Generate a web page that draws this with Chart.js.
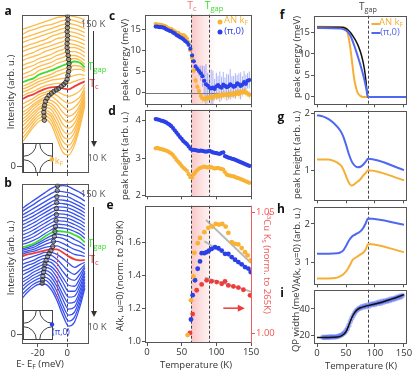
<!DOCTYPE html>
<html>
<head>
<meta charset="utf-8">
<script src="https://cdn.jsdelivr.net/npm/chart.js@4.4.1/dist/chart.umd.min.js"></script>
<style>
  body { margin: 0; background: #fff; }
  #fig { position: relative; width: 416px; height: 373px; overflow: hidden; font-family: 'Open Sans', sans-serif; color: #333; }
  #fig canvas { position: absolute; }
  .t { position: absolute; white-space: nowrap; font-size: 9.5px; line-height: 1; transform: translate(-50%, -50%); }
  .t sub { font-size: 72%; vertical-align: -0.3em; }
  .t sup { font-size: 65%; vertical-align: 0.5em; }
  .lt { font-size: 12px; font-weight: bold; color: #111; }
</style>
</head>
<body>
<div id="fig"></div>
<script>
// ---- a / b : stacked EDCs (offset intensity, arb. u.), one row per temperature
const edcEnergy = [-30.5, -27, -23, -19, -15, -11, -7, -3, 1, 5, 9, 12];
const edcTemps = [10, 15, 20, 25, 30, 35, 40, 45, 50, 55, 60, 65, 70, 75, 80, 85, 90, 95, 100, 105, 110, 115, 120, 125, 130, 135, 140, 145, 150];
const edcAN = [
  [24, 31, 39, 45, 47, 42, 28, 14, 11, 21, 41, 61],
  [28, 34, 42, 48, 50, 46, 33, 19, 16, 25, 44, 63],
  [32, 38, 45, 51, 53, 50, 38, 25, 21, 29, 47, 65],
  [36, 41, 48, 54, 56, 53, 43, 30, 27, 34, 50, 66],
  [40, 45, 51, 57, 59, 57, 48, 36, 32, 38, 53, 68],
  [44, 48, 54, 59, 62, 60, 53, 42, 38, 43, 56, 70],
  [47, 51, 57, 62, 64, 63, 57, 48, 44, 48, 59, 72],
  [51, 54, 60, 64, 67, 66, 62, 54, 50, 53, 62, 74],
  [54, 57, 62, 66, 69, 70, 66, 60, 56, 59, 66, 76],
  [58, 61, 65, 69, 72, 73, 71, 66, 63, 65, 70, 79],
  [62, 65, 68, 72, 74, 76, 75, 72, 70, 72, 76, 82],
  [67, 70, 72, 75, 77.5, 79, 79.5, 78, 77, 80, 83, 85],
  [70, 73, 75, 78, 80.5, 82, 83, 83, 83, 85, 87, 88],
  [74, 76, 79, 82, 84, 86, 87, 88, 89, 91, 92, 91],
  [77, 79, 82, 85, 87, 89, 91, 93, 95, 97, 97, 95],
  [80, 82, 85, 88, 90, 92, 95, 97, 99, 101, 100, 97],
  [84, 86, 88, 92, 94, 96, 98.5, 101, 103, 105, 103.5, 99],
  [88, 90, 92, 96, 98, 100, 103, 105, 107, 108, 106, 102],
  [92, 94, 97, 100, 102, 104, 107, 109, 111, 111, 109, 106],
  [97, 99, 101, 104, 106, 108, 111, 113, 115, 115, 113, 110],
  [101, 103, 105, 108, 110, 112, 115, 117, 119, 119, 117, 114],
  [106, 108, 110, 112, 115, 117, 119, 121, 123, 122, 120, 118],
  [110, 112, 114, 117, 119, 121, 123, 125, 127, 126, 124, 122],
  [115, 117, 119, 121, 123, 125, 128, 129, 131, 130, 128, 126],
  [119, 121, 123, 125, 127, 130, 132, 134, 135, 134, 132, 130],
  [124, 126, 128, 130, 132, 134, 136, 138, 139, 138, 136, 134],
  [128, 130, 132, 134, 136, 138, 140, 142, 143, 142, 140, 138],
  [132, 135, 137, 139, 141, 142, 144, 146, 147, 146, 144, 143],
  [137, 139, 141, 143, 145, 147, 149, 150, 151, 150, 148.5, 147]
];
const edcPi = [
  [36, 42, 47, 50, 50, 45, 34, 19, 8, 12, 29, 46],
  [40, 45, 50, 53, 54, 49, 38, 24, 13, 17, 33, 49],
  [44, 49, 53, 56, 57, 53, 43, 29, 19, 22, 37, 52],
  [48, 52, 56, 59, 61, 57, 48, 35, 25, 27, 41, 55],
  [52, 55, 59, 62, 64, 61, 52, 40, 31, 32, 45, 58],
  [55, 58, 62, 65, 67, 65, 57, 46, 37, 38, 49, 61],
  [59, 62, 65, 68, 70, 68, 62, 52, 43, 43, 53, 63],
  [63, 65, 68, 71, 73, 72, 66, 57, 49, 48, 57, 66],
  [66, 69, 71, 74, 76, 75, 71, 63, 56, 54, 61, 68],
  [70, 72, 74, 77, 79, 79, 75, 69, 63, 60, 65, 70],
  [74, 76, 78, 80, 82, 82, 80, 76, 71, 67, 70, 72],
  [78, 80, 81, 82.5, 84, 85, 85, 82, 78, 75, 74, 74.5],
  [80, 82, 83, 85, 87, 88, 88.5, 86, 83, 80, 79, 78],
  [82, 83.5, 85, 87.5, 90, 92, 93, 91, 88, 85, 83, 81],
  [84, 85.5, 87, 90, 93, 95.5, 97, 96, 93, 90, 88, 85],
  [85.5, 87, 89, 92, 95.5, 98.5, 100.5, 99.5, 98, 95, 92, 88.5],
  [87, 88.5, 90.5, 94, 98, 101.5, 103.5, 103, 102, 99.5, 96.5, 92],
  [90, 91.5, 94, 97, 101, 104.5, 107, 106.5, 105.5, 103, 100, 96],
  [93, 95, 97.5, 101, 105, 108, 110.5, 110, 109, 106.5, 103.5, 100],
  [96, 98, 101, 104.5, 108, 111.5, 114, 113.5, 112.5, 110, 107, 104],
  [99.5, 101.5, 104.5, 108, 111.5, 115, 117.5, 117, 116, 113.5, 110.5, 107.5],
  [103, 105, 108, 111.5, 115, 118.5, 121, 120.5, 119.5, 117, 114, 111],
  [106, 108.5, 111.5, 115, 118.5, 122, 124.5, 124, 123, 120.5, 117.5, 114.5],
  [109.5, 112, 115, 118.5, 122, 125.5, 128, 127.5, 126.5, 124, 121, 118],
  [113, 115.5, 118.5, 122, 125.5, 129, 131.5, 131, 130, 127.5, 124.5, 121.5],
  [116.5, 119, 122, 125.5, 129, 132.5, 135, 134.5, 133.5, 131, 128, 125],
  [119.5, 122.5, 126, 129.5, 133, 136.5, 139, 138.5, 137.5, 134.5, 131.5, 128.5],
  [123, 126.5, 130, 134, 137.5, 141, 143.5, 143, 142, 139.5, 136.5, 133.5],
  [126, 130, 134, 138, 142, 146, 148.5, 149, 148, 145, 142, 139]
];
// peak positions marked on the EDCs
const peakAN_E = [-15.5, -15.7, -15.9, -15.7, -15.3, -14.7, -13.7, -12.3, -10.7, -9, -7.3, -5.7, -4, -2.3, -1, 0, 0.5, 1, 1.3, 1.3, 1, 0.7, 0.3, 0, 0, 0.2, 0.3, 0, 0.2, 0.3, 0.5, 0.3];
const peakAN_I = [46, 50, 54, 58, 61, 65, 68, 71, 73, 75, 76.5, 78, 80, 82, 84, 87, 91, 95, 99, 103, 107, 111, 115, 119, 123, 127, 131, 135, 139, 143, 147, 151];
const peakPi_E = [-17, -16.7, -16.5, -16.1, -15.7, -15.1, -14.3, -13.3, -12.2, -11, -9.8, -9.3, -8.7, -8.3, -7.9, -7.5, -7.3, -7.3, -7.1, -7, -6.7, -6.5];
const peakPi_I = [51, 54, 58, 62, 66, 70, 74, 78, 81, 84, 88, 93, 98, 103, 108, 114, 120, 126, 132, 138, 144, 149];
const tcMarkPi_E = [-6.5, -6.5];
const tcMarkPi_I = [82, 36];

// ---- c / d / e : measured temperature dependence
const TC = 64, TGAP = 89;
const tempC = [12.5, 15, 17.5, 20, 22.5, 25, 27.5, 30, 32.5, 35, 37.5, 40, 42.5, 45, 47.5, 50, 52.5, 55, 57.5, 60,
  62.5, 65, 67.5, 70, 72.5, 75, 77.5, 80, 82.5, 85, 87.5, 90, 92.5, 95, 97.5, 100, 102.5, 105, 107.5, 110,
  112.5, 115, 117.5, 120, 122.5, 125, 127.5, 130, 132.5, 135, 137.5, 140, 142.5, 145, 147.5];
const peakEnAN = [16.2, 16.1, 16.1, 16.0, 15.9, 15.8, 15.6, 15.3, 15.1, 15.0, 14.7, 14.5, 14.2, 14.1, 13.8, 13.6, 13.6, 13.3, 12.8, 11.9,
  10.0, 8.2, 5.2, 2.9, 1.4, 0.4, -0.8, -1.3, -1.5, -1.2, -1.4, -1.1, -0.9, -1.2, -0.8, -0.6, -0.9, -0.5, -0.7, -0.4,
  -0.6, -0.3, -0.6, -0.2, -0.5, -0.1, -0.4, 0.1, -0.3, 0.2, 0.0, 0.4, 0.1, -0.2, -0.5];
const peakEnPi = [15.6, 15.6, 15.5, 15.5, 15.4, 15.3, 15.0, 14.8, 14.6, 14.5, 14.2, 14.0, 13.6, 13.4, 13.1, 12.9, 12.6, 12.2, 11.9, 11.3,
  10.4, 8.8, 7.4, 6.2, 5.6, 5.1, 4.6, 3.9, 2.8, 2.0, 1.7, 1.2, 1.0, 1.2, 0.9, 1.5, 1.8, 1.4, 1.2, 1.9,
  1.6, 1.3, 1.5, 2.0, 1.7, 1.4, 1.6, 2.2, 2.0, 1.6, 1.9, 2.5, 2.1, 2.8, 3.0];
const peakEnErrAN = [0, 0, 0, 0, 0, 0, 0, 0, 0, 0, 0, 0, 0, 0, 0, 0, 0, 0, 0, 0,
  0, 0, 0.8, 1.0, 1.2, 1.0, 0.9, 1.1, 0.8, 1.0, 1.2, 0.9, 1.0, 0.8, 1.1, 0.9, 1.0, 0.8, 1.2, 0.9,
  1.0, 0.8, 1.1, 0.9, 1.0, 0.8, 1.0, 0.9, 1.1, 0.8, 1.0, 0.9, 1.0, 0.8, 1.0];
const peakEnErrPi = [0, 0, 0, 0, 0, 0, 0, 0, 0, 0, 0, 0, 0, 0, 0, 0, 0, 0, 0, 0,
  0, 0, 0, 0, 0, 1.2, 1.8, 2.5, 3.5, 4.8, 3.0, 2.6, 4.5, 4.0, 2.4, 3.2, 2.2, 3.6, 2.6, 3.0,
  2.0, 3.2, 2.8, 3.6, 2.2, 2.6, 3.0, 2.0, 2.6, 3.2, 2.0, 2.6, 2.2, 1.8, 2.0];
const heightAN = [3.26, 3.27, 3.25, 3.24, 3.23, 3.21, 3.20, 3.18, 3.15, 3.12, 3.08, 3.02, 2.95, 2.90, 2.85, 2.79, 2.74, 2.70, 2.66, 2.57,
  2.49, 2.48, 2.57, 2.63, 2.68, 2.72, 2.74, 2.76, 2.77, 2.76, 2.75, 2.75, 2.76, 2.74, 2.72, 2.73, 2.74, 2.72, 2.71, 2.69,
  2.62, 2.56, 2.54, 2.53, 2.52, 2.51, 2.49, 2.47, 2.46, 2.44, 2.42, 2.40, 2.38, 2.36, 2.34];
const heightPi = [4.04, 4.03, 4.02, 4.00, 3.99, 3.97, 3.95, 3.92, 3.89, 3.85, 3.80, 3.74, 3.68, 3.62, 3.56, 3.51, 3.45, 3.41, 3.37, 3.31,
  3.25, 3.22, 3.22, 3.21, 3.20, 3.19, 3.20, 3.19, 3.18, 3.17, 3.18, 3.19, 3.17, 3.15, 3.14, 3.13, 3.12, 3.11, 3.14, 3.15,
  3.05, 3.03, 3.01, 3.00, 2.98, 2.97, 2.95, 2.93, 2.91, 2.89, 2.87, 2.85, 2.83, 2.81, 2.79];
const tempAwAN = [58.6, 63.4, 66.8, 68.3, 73.1, 76.4, 82.7, 88.4, 94.2, 99.0, 103.8, 108.6, 113.4, 117.3, 122.1, 126.9, 131.7, 136.5, 141.3, 145.1, 149.5];
const awAN = [1.036, 1.248, 1.394, 1.537, 1.596, 1.628, 1.663, 1.689, 1.697, 1.713, 1.709, 1.713, 1.697, 1.659, 1.602, 1.592, 1.588, 1.566, 1.541, 1.521, 1.491];
const tempAwPi = [63.4, 65.8, 69.2, 73.1, 76.4, 78.8, 82.7, 86.0, 89.4, 93.2, 98.1, 102.9, 107.7, 112.5, 117.3, 122.1, 126.9, 131.7, 136.5, 141.3, 146.1, 149.5];
const awPi = [1.131, 1.279, 1.370, 1.440, 1.485, 1.535, 1.535, 1.541, 1.551, 1.561, 1.571, 1.565, 1.551, 1.531, 1.531, 1.511, 1.495, 1.481, 1.467, 1.450, 1.441, 1.420];
const tempKs = [62.0, 65.8, 71.6, 78.8, 86.0, 93.2, 100.5, 107.7, 112.5, 117.3, 124.6, 131.7, 139.0, 148.6];
const knightKs = [1.0001, 1.0079, 1.0178, 1.0202, 1.0219, 1.0215, 1.0212, 1.0205, 1.0215, 1.0198, 1.0194, 1.0189, 1.0180, 1.0157];
const fitAN_T = [85.1, 150], fitAN_V = [1.737, 1.475];
const fitPi_T = [82.7, 150], fitPi_V = [1.608, 1.432];
const fitKs_T = [83.6, 150], fitKs_V = [1.0230, 1.0172];
const arrowKs_T = [110, 141], arrowKs_V = 1.20;

// ---- f / g / h / i : model curves
const TGAP_M = 88;
const modEnBlackT = [0, 40, 50, 54, 58, 62.6, 67, 71.3, 77, 81.6, 84.5, 87.4, 155];
const modEnBlack = [16.2, 16.2, 15.9, 15.5, 14.9, 14.0, 13.0, 11.8, 9.5, 6.6, 3.6, 0, 0];
const modEnPiT = [0, 40, 48, 53, 57, 60, 64, 68, 72, 76, 80, 84, 88, 155];
const modEnPi = [16.0, 15.9, 15.6, 15.1, 14.4, 13.5, 12.0, 10.4, 8.7, 6.9, 4.9, 2.6, 0, 0];
const modEnANT = [0, 45, 49, 52, 55, 58, 61, 64, 67, 70, 74, 80, 155];
const modEnAN = [16.3, 16.2, 16.0, 15.3, 13.5, 10.8, 7.5, 4.3, 2.3, 1.0, 0.3, 0, 0];
const modHtPiT = [0, 10, 20, 30, 40, 45, 50, 55, 60, 65, 70, 75, 80, 84, 88, 150];
const modHtPi = [1.97, 1.95, 1.90, 1.82, 1.70, 1.60, 1.45, 1.28, 1.15, 1.08, 1.05, 1.06, 1.10, 1.15, 1.20, 1.00];
const modHtANT = [0, 20, 30, 38, 43, 48, 52, 56, 59, 63, 68, 74, 80, 84, 88, 150];
const modHtAN = [1.19, 1.19, 1.16, 1.11, 1.06, 0.95, 0.84, 0.76, 0.73, 0.74, 0.78, 0.83, 0.91, 0.95, 1.00, 0.82];
const modAwPiT = [0, 20, 35, 40, 45, 50, 55, 60, 65, 70, 75, 80, 84, 88, 150];
const modAwPi = [1.23, 1.23, 1.24, 1.26, 1.31, 1.43, 1.57, 1.67, 1.72, 1.76, 1.81, 1.90, 2.02, 2.14, 1.98];
const modAwANT = [0, 20, 31, 38, 45, 50, 54, 58, 61, 65, 70, 75, 80, 84, 88, 150];
const modAwAN = [0.59, 0.59, 0.60, 0.63, 0.69, 0.77, 0.86, 0.97, 1.06, 1.11, 1.16, 1.21, 1.26, 1.34, 1.48, 1.27];
const qpTemp = [10, 12.5, 15, 17.5, 20, 22.5, 25, 27.5, 30, 32.5, 35, 37.5, 40, 42.5, 45, 47.5, 50, 52.5, 55, 57.5,
  60, 62.5, 65, 67.5, 70, 72.5, 75, 77.5, 80, 82.5, 85, 87.5, 90, 92.5, 95, 97.5, 100, 102.5, 105, 107.5,
  110, 112.5, 115, 117.5, 120, 122.5, 125, 127.5, 130, 132.5, 135, 137.5, 140, 142.5, 145, 147.5];
const qpWidth = [18.5, 18.2, 18.6, 18.3, 18.7, 18.4, 18.9, 18.5, 18.8, 18.6, 19.0, 19.3, 19.6, 20.3, 21.0, 22.0, 23.4, 25.1, 27.6, 30.4,
  32.9, 35.0, 36.9, 38.5, 39.4, 40.6, 40.5, 41.8, 41.2, 42.5, 41.6, 43.0, 42.1, 43.6, 43.1, 44.0, 43.2, 44.6, 44.1, 45.2,
  44.3, 45.8, 45.0, 46.3, 45.6, 46.8, 46.2, 47.5, 46.9, 48.0, 47.6, 48.9, 48.3, 49.6, 49.0, 50.3];
const qpFitT = [0, 20, 35, 42, 47, 51, 54, 57, 60, 63, 66, 70, 75, 82, 90, 100, 112, 125, 138, 150];
const qpFit = [18.3, 18.3, 18.6, 19.5, 21.0, 23.5, 26.5, 30.0, 33.2, 35.8, 37.8, 39.6, 40.8, 41.7, 42.6, 43.6, 45.0, 46.9, 48.8, 50.7];

const FONT = "'Open Sans', sans-serif";
const OR = '#F9B233', BL = '#2B40E8', RD = '#EE3B3B', GR = '#3DDC2F';
const OR_M = '#F8AE35', BL_M = '#5068F0';
const fig = document.getElementById('fig');

// ---------- plugins ----------
const framePlugin = {
  id: 'frame',
  afterDatasetsDraw(chart, args, o) {
    const a = chart.chartArea, ctx = chart.ctx;
    ctx.save();
    ctx.lineWidth = 1;
    ctx.strokeStyle = '#555';
    ctx.strokeRect(Math.round(a.left) + 0.5, Math.round(a.top) + 0.5, Math.round(a.right - a.left) - 1, Math.round(a.bottom - a.top) - 1);
    if (o.right) {
      ctx.strokeStyle = o.right;
      ctx.beginPath();
      ctx.moveTo(Math.round(a.right) - 0.5, a.top);
      ctx.lineTo(Math.round(a.right) - 0.5, a.bottom);
      ctx.stroke();
    }
    ctx.restore();
  }
};

const guidePlugin = {
  id: 'guides',
  beforeDatasetsDraw(chart, args, o) {
    const { ctx, chartArea: a, scales } = chart;
    const x = scales.x, y = scales.y;
    ctx.save();
    if (o.shade) {
      const x0 = x.getPixelForValue(o.shade[0]), x1 = x.getPixelForValue(o.shade[1]);
      const g = ctx.createLinearGradient(x0, 0, x1, 0);
      g.addColorStop(0, 'rgba(246,150,150,0.55)');
      g.addColorStop(1, 'rgba(250,190,190,0)');
      ctx.fillStyle = g;
      ctx.fillRect(x0, a.top, x1 - x0, a.bottom - a.top);
    }
    if (o.zero) {
      const yy = Math.round(y.getPixelForValue(0)) + 0.5;
      ctx.strokeStyle = '#777';
      ctx.lineWidth = 1;
      ctx.beginPath(); ctx.moveTo(a.left, yy); ctx.lineTo(a.right, yy); ctx.stroke();
    }
    (o.vlines || []).forEach(v => {
      const xx = Math.round(x.getPixelForValue(v)) + 0.5;
      ctx.strokeStyle = '#444';
      ctx.lineWidth = 1;
      ctx.setLineDash([3, 2]);
      ctx.beginPath(); ctx.moveTo(xx, a.top); ctx.lineTo(xx, a.bottom); ctx.stroke();
    });
    ctx.restore();
  }
};

const insetPlugin = {
  id: 'inset',
  afterDatasetsDraw(chart, args, o) {
    if (!o.color) return;
    const ctx = chart.ctx, a = chart.chartArea;
    const s = 29, x0 = Math.round(a.left) + 1, y0 = Math.round(a.bottom) - o.lift - s;
    ctx.save();
    ctx.fillStyle = '#fff';
    ctx.fillRect(x0, y0, s, s);
    ctx.strokeStyle = '#444';
    ctx.lineWidth = 1;
    ctx.strokeRect(x0 + 0.5, y0 + 0.5, s, s);
    const r = s * 0.44;
    [[x0, y0, 0, Math.PI / 2], [x0 + s, y0, Math.PI / 2, Math.PI],
     [x0 + s, y0 + s, Math.PI, 1.5 * Math.PI], [x0, y0 + s, 1.5 * Math.PI, 2 * Math.PI]].forEach(c => {
      ctx.beginPath(); ctx.arc(c[0] + 0.5, c[1] + 0.5, r, c[2], c[3]); ctx.stroke();
    });
    ctx.fillStyle = o.color;
    ctx.beginPath(); ctx.arc(x0 + s, y0 + s * o.dot, 2.2, 0, 2 * Math.PI); ctx.fill();
    ctx.restore();
  }
};

const arrowPlugin = {
  id: 'arrow',
  afterDatasetsDraw(chart, args, o) {
    if (!o.t) return;
    const { ctx, scales } = chart;
    const x0 = scales.x.getPixelForValue(o.t[0]), x1 = scales.x.getPixelForValue(o.t[1]);
    const yy = scales.y.getPixelForValue(o.v);
    ctx.save();
    ctx.strokeStyle = RD; ctx.fillStyle = RD; ctx.lineWidth = 1.5;
    ctx.beginPath(); ctx.moveTo(x0, yy); ctx.lineTo(x1 - 5, yy); ctx.stroke();
    ctx.beginPath(); ctx.moveTo(x1, yy); ctx.lineTo(x1 - 7, yy - 3.5); ctx.lineTo(x1 - 7, yy + 3.5); ctx.closePath(); ctx.fill();
    ctx.restore();
  }
};

// ---------- helpers ----------
function pts(xs, ys) { return xs.map((v, i) => ({ x: v, y: ys[i] })); }

function errPts(xs, ys, err) {
  const out = [];
  xs.forEach((t, i) => {
    if (err[i] > 0) out.push({ x: t, y: ys[i] - err[i] }, { x: t, y: ys[i] + err[i] }, { x: t, y: null });
  });
  return out;
}

function axis(pos, min, max, ticks, size, opt) {
  opt = opt || {};
  return {
    type: 'linear', position: pos, min: min, max: max, offset: false,
    border: { display: false },
    grid: { display: true, drawOnChartArea: false, drawTicks: true, tickLength: opt.tick || 3, color: opt.tickColor || '#555' },
    ticks: {
      display: opt.labels !== false, color: opt.color || '#333', padding: 1,
      font: { family: FONT, size: 9.5 }, autoSkip: false, maxRotation: 0,
      callback: opt.fmt || (v => v)
    },
    afterBuildTicks: s => { s.ticks = ticks.map(v => ({ value: v })); },
    afterFit: s => { if (pos === 'left' || pos === 'right') s.width = size; else s.height = size; }
  };
}

function lineDs(data, color, width, order) {
  return { data: data, showLine: true, pointRadius: 0, borderColor: color, borderWidth: width,
           cubicInterpolationMode: 'monotone', order: order || 1 };
}

function dotDs(data, color, r, order) {
  return { data: data, showLine: false, pointRadius: r, backgroundColor: color, borderWidth: 0, order: order || 1 };
}

function makePanel(box, pad, datasets, scales, popts) {
  const cv = document.createElement('canvas');
  const w = box[2] - box[0] + pad[0] + pad[2];
  const h = box[3] - box[1] + pad[1] + pad[3];
  cv.width = w; cv.height = h;
  cv.style.left = (box[0] - pad[0]) + 'px';
  cv.style.top = (box[1] - pad[1]) + 'px';
  cv.style.width = w + 'px';
  cv.style.height = h + 'px';
  fig.appendChild(cv);
  return new Chart(cv, {
    type: 'scatter',
    data: { datasets: datasets },
    options: {
      responsive: false, animation: false, devicePixelRatio: 1,
      layout: { padding: { left: 0, top: pad[1], right: scales.y2 ? 0 : pad[2], bottom: 0 } },
      plugins: Object.assign({ legend: { display: false }, tooltip: { enabled: false } }, popts || {}),
      scales: scales
    },
    plugins: [framePlugin, guidePlugin, insetPlugin, arrowPlugin]
  });
}

function txt(html, cx, cy, css) {
  const d = document.createElement('div');
  d.className = 't';
  d.innerHTML = html;
  d.style.left = cx + 'px';
  d.style.top = cy + 'px';
  if (css) d.style.cssText += css;
  fig.appendChild(d);
  return d;
}
function vtxt(html, cx, cy, css, deg) {
  return txt(html, cx, cy, 'transform:translate(-50%,-50%) rotate(' + (deg || -90) + 'deg);' + (css || ''));
}

// ---------- a, b ----------
function edcSets(rows, base) {
  const kc = edcTemps.indexOf(65), kg = edcTemps.indexOf(90);
  return rows.map((row, k) => {
    const col = k === kc ? RD : k === kg ? GR : base;
    return lineDs(pts(edcEnergy, row), col, (k === kc || k === kg) ? 1.8 : 1.3, (k === kc || k === kg) ? 1 : 2);
  });
}
function ring(xs, ys) {
  return { data: pts(xs, ys), showLine: false, pointRadius: 2.2, backgroundColor: 'rgba(110,110,110,0.55)',
           borderColor: '#222', borderWidth: 0.8, order: 0 };
}

const dsA = edcSets(edcAN, '#FCBB4C');
dsA.push(ring(peakAN_E, peakAN_I));
makePanel([22, 14, 90, 173], [22, 6, 4, 8], dsA, {
  x: axis('bottom', -30.7, 15, [-20, 0], 8, { labels: false }),
  y: axis('left', -7, 152, [0], 22, { tick: 5 })
}, { guides: { vlines: [0] }, inset: { color: OR, dot: 0.57, lift: 1 } });

const dsB = edcSets(edcPi, '#3A52EE');
dsB.push(ring(peakPi_E, peakPi_I));
dsB.push(Object.assign(lineDs(pts(tcMarkPi_E, tcMarkPi_I), RD, 1.2, 0), { borderDash: [2, 2] }));
makePanel([22, 183, 90, 344], [22, 6, 4, 20], dsB, {
  x: axis('bottom', -30.7, 15, [-20, 0], 20, {}),
  y: axis('left', -10, 151, [0], 22, { tick: 5 })
}, { guides: { vlines: [0] }, inset: { color: BL, dot: 0.5, lift: 5 } });

// ---------- c, d, e ----------
const shadeTC = [TC, 101];
makePanel([145, 14, 252, 107], [30, 6, 4, 4], [
  lineDs(errPts(tempC, peakEnPi, peakEnErrPi), 'rgba(95,115,240,0.55)', 1, 3),
  lineDs(errPts(tempC, peakEnAN, peakEnErrAN), 'rgba(249,178,51,0.55)', 1, 3),
  dotDs(pts(tempC, peakEnAN), OR, 2.1, 2),
  dotDs(pts(tempC, peakEnPi), BL, 2.1, 1)
], {
  x: axis('bottom', -2.9, 151.4, [0, 50, 100, 150], 4, { labels: false }),
  y: axis('left', -2.73, 18.41, [0, 5, 10, 15], 30, {})
}, { guides: { shade: shadeTC, vlines: [TC, TGAP], zero: true } });

makePanel([145, 109, 252, 199], [30, 6, 4, 4], [
  dotDs(pts(tempC, heightAN), OR, 2.1, 2),
  dotDs(pts(tempC, heightPi), BL, 2.1, 1)
], {
  x: axis('bottom', -2.9, 151.4, [0, 50, 100, 150], 4, { labels: false }),
  y: axis('left', 1.98, 4.29, [2, 3, 4], 30, {})
}, { guides: { shade: shadeTC, vlines: [TC, TGAP] } });

const dsE = [
  lineDs(pts(fitAN_T, fitAN_V), 'rgba(165,165,165,0.8)', 1.8, 4),
  lineDs(pts(fitPi_T, fitPi_V), 'rgba(165,165,165,0.8)', 1.8, 4),
  Object.assign(lineDs(pts(fitKs_T, fitKs_V), 'rgba(165,165,165,0.8)', 1.8, 4), { yAxisID: 'y2' }),
  dotDs(pts(tempAwAN, awAN), OR, 2.4, 2),
  dotDs(pts(tempAwPi, awPi), BL, 2.4, 2),
  Object.assign(dotDs(pts(tempKs, knightKs), RD, 2.4, 2), { yAxisID: 'y2' })
];
makePanel([145, 205, 252, 343], [30, 6, 28, 20], dsE, {
  x: axis('bottom', -2.9, 151.4, [0, 50, 100, 150], 20, {}),
  y: axis('left', 0.988, 1.824, [1.0, 1.2, 1.4, 1.6], 30, { fmt: v => v.toFixed(1) }),
  y2: axis('right', 0.9959, 1.0529, [1.00, 1.05], 28, { fmt: v => v.toFixed(2), color: '#F05555', tickColor: '#F05555' })
}, { guides: { shade: shadeTC, vlines: [TC, TGAP] }, frame: { right: '#F06060' }, arrow: { t: arrowKs_T, v: arrowKs_V } });

// ---------- f, g, h, i ----------
const xM = () => axis('bottom', -5.2, 155.2, [0, 50, 100, 150], 4, { labels: false });
makePanel([314, 15, 407, 107], [22, 6, 6, 4], [
  lineDs(pts(modEnANT, modEnAN), OR_M, 2, 2),
  lineDs(pts(modEnPiT, modEnPi), BL_M, 2, 1),
  lineDs(pts(modEnBlackT, modEnBlack), '#111', 1.5, 0)
], { x: xM(), y: axis('left', -1.72, 18.87, [0, 5, 10, 15], 22, {}) }, { guides: { vlines: [TGAP_M] } });

makePanel([314, 110, 407, 203], [22, 6, 6, 4], [
  lineDs(pts(modHtANT, modHtAN), OR_M, 2, 2),
  lineDs(pts(modHtPiT, modHtPi), BL_M, 2, 1)
], { x: xM(), y: axis('left', 0.467, 2.05, [1, 2], 22, {}) }, { guides: { vlines: [TGAP_M] } });

makePanel([314, 206, 407, 287], [22, 6, 6, 4], [
  lineDs(pts(modAwANT, modAwAN), OR_M, 2, 2),
  lineDs(pts(modAwPiT, modAwPi), BL_M, 2, 1)
], { x: xM(), y: axis('left', 0.437, 2.447, [1, 2], 22, {}) }, { guides: { vlines: [TGAP_M] } });

makePanel([314, 289, 407, 344], [22, 6, 8, 20], [
  dotDs(pts(qpTemp, qpWidth), 'rgba(85,105,240,0.5)', 2.6, 2),
  lineDs(pts(qpFitT, qpFit), '#111', 1.5, 0)
], {
  x: axis('bottom', -5.2, 155.2, [0, 50, 100, 150], 20, {}),
  y: axis('left', 13.3, 54.5, [20, 40], 22, {})
}, { guides: { vlines: [TGAP_M] } });

// ---------- text ----------
[['a', 8, 11], ['b', 8, 183], ['c', 112, 16], ['d', 112, 111], ['e', 110, 205],
 ['f', 282, 15], ['g', 281, 117], ['h', 281, 209], ['i', 282, 293]].forEach(l => txt(l[0], l[1], l[2]).classList.add('lt'));

vtxt('Intensity (arb. u.)', 11, 92);
vtxt('Intensity (arb. u.)', 11, 258);
txt('E- E<sub>F</sub> (meV)', 40, 365);
txt('150 K', 93, 24, 'color:#555;');
txt('T<sub>gap</sub>', 97, 67, 'color:' + GR + ';font-size:10.5px;');
txt('T<sub>c</sub>', 94, 84, 'color:' + RD + ';font-size:10.5px;');
txt('10 K', 97, 158, 'color:#555;');
txt('150 K', 93, 194, 'color:#555;');
txt('T<sub>gap</sub>', 97, 244, 'color:' + GR + ';font-size:10.5px;');
txt('T<sub>c</sub>', 94, 260, 'color:' + RD + ';font-size:10.5px;');
txt('10 K', 97, 327, 'color:#555;');
txt('k<sub>F</sub>', 59, 162, 'color:' + OR + ';');
txt('(π,0)', 61, 332, 'color:' + BL + ';font-size:8.5px;');

// temperature arrows next to the stacks
[[31, 147], [207, 317]].forEach(r => {
  const d = document.createElement('div');
  d.style.cssText = 'position:absolute;left:93px;top:' + r[0] + 'px;width:1px;height:' + (r[1] - r[0] - 5) + 'px;background:#333;';
  fig.appendChild(d);
  const h = document.createElement('div');
  h.style.cssText = 'position:absolute;left:90.5px;top:' + (r[1] - 6) + 'px;width:0;height:0;border-left:3px solid transparent;border-right:3px solid transparent;border-top:6px solid #333;';
  fig.appendChild(h);
});

txt('T<sub>c</sub>', 192, 6, 'color:#F07777;font-size:10.5px;');
txt('T<sub>gap</sub>', 214, 6, 'color:' + GR + ';font-size:10.5px;');
vtxt('peak energy (meV)', 125, 60);
vtxt('peak height (arb. u.)', 125, 156);
vtxt('A(k, ω=0) (norm. to 290K)', 120, 276);
vtxt('<sup>63</sup>Cu K<sub>s</sub> (norm. to 265K)', 266, 263, 'color:#F05555;', 90);
txt('Temperature (K)', 196, 365);
txt('Temperature (K)', 361, 366);

// legend of c
txt('', 220, 22, 'width:5px;height:5px;border-radius:50%;background:' + OR + ';');
txt('AN k<sub>F</sub>', 236, 21, 'color:' + OR + ';');
txt('', 220, 32, 'width:5px;height:5px;border-radius:50%;background:' + BL + ';');
txt('(π,0)', 234, 31, 'color:' + BL + ';');

// legend of f
txt('', 376, 24, 'width:9px;height:2px;background:' + OR_M + ';');
txt('AN k<sub>F</sub>', 391, 23, 'color:' + OR_M + ';');
txt('', 376, 33, 'width:9px;height:2px;background:' + BL_M + ';');
txt('(π,0)', 390, 32, 'color:' + BL_M + ';');
txt('T<sub>gap</sub>', 368, 7, 'color:#444;font-size:10px;');

vtxt('peak energy (meV)', 297, 57);
vtxt('peak height (arb. u.)', 297, 155);
vtxt('A(k, ω=0) (arb. u.)', 297, 246);
vtxt('QP width (meV)', 296, 318);
</script>
</body>
</html>
